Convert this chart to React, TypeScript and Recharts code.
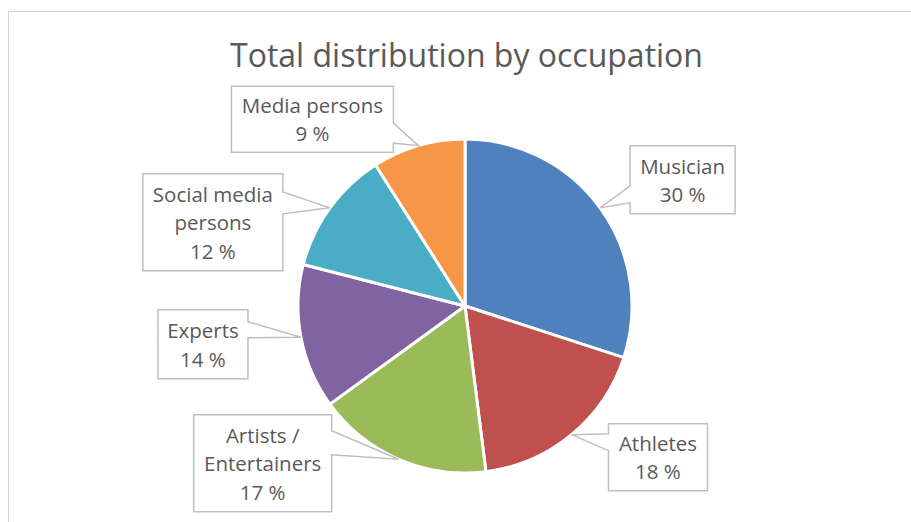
import React from 'react';
import { PieChart, Pie, Cell } from 'recharts';

// Share of the total by occupation (percent)
const categories = ['Musician', 'Athletes', 'Artists / Entertainers', 'Experts', 'Social media persons', 'Media persons'];
const shares = [30, 18, 17, 14, 12, 9];
// How each category name wraps inside its callout box
const nameLines = [['Musician'], ['Athletes'], ['Artists /', 'Entertainers'], ['Experts'], ['Social media', 'persons'], ['Media persons']];
const colors = ['#4F81BD', '#C0504D', '#9BBB59', '#8064A2', '#4BACC6', '#F79646'];

const data = categories.map((name, i) => ({ name, value: shares[i] }));

// Callout placement: box centre offset from the slice-edge anchor, box size,
// and where the pointer meets the box (side + span measured from the box top).
const callouts = [
  { dx: 82.5, dy: -28, w: 105, h: 68, side: 'left', a: 40, b: 57 },
  { dx: 86.5, dy: 22.5, w: 99, h: 67, side: 'left', a: 10, b: 27 },
  { dx: -136, dy: 4, w: 138, h: 97, side: 'right', a: 16, b: 40 },
  { dx: -98, dy: 7, w: 90, h: 69, side: 'right', a: 12, b: 28 },
  { dx: -117, dy: 14.5, w: 140, h: 97, side: 'right', a: 18, b: 40 },
  { dx: -106, dy: -26.5, w: 162, h: 66, side: 'right', a: 37, b: 57 },
];

const FONT = '"Open Sans", "DejaVu Sans", sans-serif';
const TEXT = '#595959';
const LINE_H = 28.5;

const renderCallout = (props: any) => {
  const { cx, cy, midAngle, outerRadius, index, value } = props;
  const rad = Math.PI / 180;
  const tx = cx + outerRadius * Math.cos(-midAngle * rad);
  const ty = cy + outerRadius * Math.sin(-midAngle * rad);
  const c = callouts[index];
  const bx = tx + c.dx;
  const by = ty + c.dy;
  const L = bx - c.w / 2;
  const R = bx + c.w / 2;
  const T = by - c.h / 2;
  const B = by + c.h / 2;
  let d: string;
  if (c.side === 'right') {
    d = `M${L},${T} H${R} V${T + c.a} L${tx},${ty} L${R},${T + c.b} V${B} H${L} Z`;
  } else {
    d = `M${L},${T} H${R} V${B} H${L} V${T + c.b} L${tx},${ty} L${L},${T + c.a} Z`;
  }
  const lines = [...nameLines[index], `${value} %`];
  const n = lines.length;
  return (
    <g key={`callout-${index}`}>
      <path d={d} fill="#ffffff" stroke="#bfbfbf" strokeWidth={1.5} />
      {lines.map((t, i) => (
        <text
          key={i}
          x={bx}
          y={by + 8 + (i - (n - 1) / 2) * LINE_H}
          textAnchor="middle"
          fontFamily={FONT}
          fontSize={20.5}
          fill={TEXT}
        >
          {t}
        </text>
      ))}
    </g>
  );
};

export default function App() {
  return (
    <div style={{ position: 'fixed', left: 0, top: 0, width: 911, height: 522, background: '#ffffff', overflow: 'hidden' }}>
      <svg width={911} height={522} style={{ position: 'absolute', left: 0, top: 0 }}>
        <rect x={8.5} y={11.5} width={1000} height={600} fill="none" stroke="#d4d4d4" strokeWidth={1} />
        <text x={466.5} y={67} textAnchor="middle" fontFamily={FONT} fontSize={32} fill={TEXT}>
          Total distribution by occupation
        </text>
      </svg>
      <div style={{ position: 'absolute', left: 0, top: 0 }}>
        <PieChart width={911} height={522} margin={{ top: 0, right: 0, bottom: 0, left: 0 }}>
          <Pie
            data={data}
            dataKey="value"
            nameKey="name"
            cx={465}
            cy={306}
            outerRadius={167}
            startAngle={90}
            endAngle={-270}
            stroke="#ffffff"
            strokeWidth={3}
            label={renderCallout}
            labelLine={false}
            isAnimationActive={false}
          >
            {data.map((_, i) => (
              <Cell key={i} fill={colors[i]} />
            ))}
          </Pie>
        </PieChart>
      </div>
    </div>
  );
}
